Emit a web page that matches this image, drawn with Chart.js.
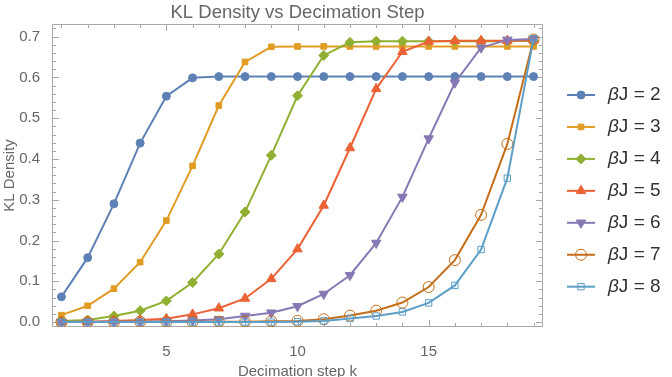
<!DOCTYPE html>
<html>
<head>
<meta charset="utf-8">
<title>KL Density vs Decimation Step</title>
<script src="https://cdn.jsdelivr.net/npm/chart.js@4.4.0/dist/chart.umd.min.js"></script>
<style>
    html, body { margin: 0; padding: 0; background: #fff; }
    #wrap { width: 672px; height: 377px; position: relative; }
</style>
</head>
<body>
<div id="wrap"><canvas id="klChart" width="672" height="377"></canvas></div>
<script>
// decimation steps k
const steps = [1, 2, 3, 4, 5, 6, 7, 8, 9, 10, 11, 12, 13, 14, 15, 16, 17, 18, 19];

// KL density per beta J
const kl2 = [0.062, 0.158, 0.290, 0.439, 0.554, 0.599, 0.602, 0.602, 0.602, 0.602, 0.602, 0.602, 0.602, 0.602, 0.602, 0.602, 0.602, 0.602, 0.602];
const kl3 = [0.017, 0.040, 0.082, 0.147, 0.249, 0.383, 0.531, 0.638, 0.675, 0.676, 0.676, 0.676, 0.676, 0.676, 0.676, 0.676, 0.676, 0.676, 0.676];
const kl4 = [0.003, 0.005, 0.015, 0.028, 0.052, 0.097, 0.167, 0.270, 0.409, 0.555, 0.654, 0.686, 0.689, 0.689, 0.689, 0.689, 0.689, 0.689, 0.690];
const kl5 = [0.000, 0.001, 0.003, 0.005, 0.008, 0.019, 0.034, 0.058, 0.106, 0.179, 0.286, 0.427, 0.572, 0.663, 0.688, 0.690, 0.690, 0.690, 0.691];
const kl6 = [0.000, 0.001, 0.001, 0.001, 0.002, 0.004, 0.007, 0.015, 0.023, 0.039, 0.069, 0.115, 0.194, 0.307, 0.450, 0.587, 0.673, 0.692, 0.694];
const kl7 = [0.000, 0.000, 0.000, 0.001, 0.001, 0.001, 0.001, 0.001, 0.002, 0.003, 0.007, 0.016, 0.028, 0.048, 0.086, 0.152, 0.263, 0.437, 0.693];
const kl8 = [0.000, 0.000, 0.000, 0.000, 0.000, 0.000, 0.000, 0.000, 0.000, 0.001, 0.003, 0.009, 0.015, 0.025, 0.047, 0.090, 0.178, 0.353, 0.695];

const seriesValues = [kl2, kl3, kl4, kl5, kl6, kl7, kl8];
const betaValues = [2, 3, 4, 5, 6, 7, 8];

// y and x ticks
const yTicks = [0, 0.1, 0.2, 0.3, 0.4, 0.5, 0.6, 0.7];
const xTicks = [5, 10, 15];

// styles (Mathematica default palette)
const colors = ['#5E81B5', '#E19C24', '#8FB032', '#EB6235', '#8778B3', '#C56E1A', '#5D9EC7'];
const markers = [
    { style: 'circle', radius: 4, rotation: 0, open: false },
    { style: 'rect', radius: 4, rotation: 0, open: false },
    { style: 'rectRot', radius: 5, rotation: 0, open: false },
    { style: 'triangle', radius: 5.5, rotation: 0, open: false },
    { style: 'triangle', radius: 5.5, rotation: 180, open: false },
    { style: 'circle', radius: 5.5, rotation: 0, open: true },
    { style: 'rect', radius: 4.5, rotation: 0, open: true }
];

const FONT = "'Liberation Sans', Arial, sans-serif";
const GRAY = '#666';
const FRAME = '#a8a8a8';

const datasets = seriesValues.map((vals, i) => ({
    label: 'βJ = ' + betaValues[i],
    data: steps.map((k, j) => ({ x: k, y: vals[j] })),
    borderColor: colors[i],
    backgroundColor: markers[i].open ? 'rgba(0,0,0,0)' : colors[i],
    borderWidth: 2,
    pointStyle: markers[i].style,
    pointRotation: markers[i].rotation,
    pointRadius: markers[i].radius,
    pointBorderWidth: 1,
    pointBorderColor: colors[i],
    pointBackgroundColor: markers[i].open ? 'rgba(0,0,0,0)' : colors[i],
    tension: 0,
    order: 10 - i
}));

// frame with inside ticks, like a Mathematica Frame
const framePlugin = {
    id: 'frame',
    beforeDatasetsDraw(chart) {
        const { ctx, chartArea: { left, right, top, bottom }, scales: { x, y } } = chart;
        ctx.save();
        ctx.strokeStyle = FRAME;
        ctx.lineWidth = 1;
        ctx.beginPath();
        ctx.rect(left + 0.5, top + 0.5, right - left - 1, bottom - top - 1);
        ctx.stroke();

        ctx.beginPath();
        for (let k = 1; k <= 19; k++) {
            const px = Math.round(x.getPixelForValue(k)) + 0.5;
            const len = k % 5 === 0 ? 7 : 4;
            ctx.moveTo(px, bottom);
            ctx.lineTo(px, bottom - len);
            ctx.moveTo(px, top);
            ctx.lineTo(px, top + len);
        }
        for (let j = 0; j <= 36; j++) {
            const v = j * 0.02;
            if (v > y.max) break;
            const py = Math.round(y.getPixelForValue(v)) + 0.5;
            const len = j % 5 === 0 ? 7 : 4;
            ctx.moveTo(left, py);
            ctx.lineTo(left + len, py);
            ctx.moveTo(right, py);
            ctx.lineTo(right - len, py);
        }
        ctx.stroke();
        ctx.restore();
    },
    afterDraw(chart) {
        const { ctx, chartArea: { left, right } } = chart;
        ctx.save();
        // title
        ctx.fillStyle = GRAY;
        ctx.font = '18.5px ' + FONT;
        ctx.textAlign = 'center';
        ctx.textBaseline = 'middle';
        ctx.fillText('KL Density vs Decimation Step', (left + right) / 2, 13);

        // legend
        datasets.forEach((ds, i) => {
            const yRow = 95 + 31.95 * i;
            ctx.strokeStyle = colors[i];
            ctx.lineWidth = 2;
            ctx.beginPath();
            ctx.moveTo(567, yRow);
            ctx.lineTo(595, yRow);
            ctx.stroke();

            ctx.fillStyle = markers[i].open ? 'rgba(0,0,0,0)' : colors[i];
            ctx.strokeStyle = colors[i];
            ctx.lineWidth = 1;
            Chart.helpers.drawPoint(ctx, {
                pointStyle: markers[i].style,
                rotation: markers[i].rotation,
                radius: markers[i].radius,
                borderWidth: 1
            }, 581, yRow);

            ctx.fillStyle = '#333';
            ctx.textAlign = 'left';
            ctx.textBaseline = 'middle';
            ctx.font = 'italic 19px ' + FONT;
            ctx.fillText('β', 608, yRow);
            const bw = ctx.measureText('β').width;
            ctx.font = '19px ' + FONT;
            ctx.fillText('J = ' + betaValues[i], 608 + bw, yRow);
        });
        ctx.restore();
    }
};

new Chart(document.getElementById('klChart').getContext('2d'), {
    type: 'line',
    data: { datasets },
    options: {
        responsive: false,
        animation: false,
        devicePixelRatio: 1,
        layout: { padding: { left: 0, top: 24, right: 129, bottom: 0 } },
        plugins: {
            legend: { display: false },
            title: { display: false },
            tooltip: { enabled: false }
        },
        scales: {
            x: {
                type: 'linear',
                min: 0.64,
                max: 19.36,
                afterBuildTicks: s => { s.ticks = xTicks.map(v => ({ value: v })); },
                afterFit: s => { s.height = 50; },
                grid: { display: false },
                border: { display: false },
                ticks: {
                    color: GRAY,
                    padding: 8,
                    maxRotation: 0,
                    autoSkip: false,
                    font: { family: FONT, size: 15 }
                },
                title: {
                    display: true,
                    text: 'Decimation step k',
                    color: GRAY,
                    font: { family: FONT, size: 15 },
                    padding: { top: 0, bottom: -4 }
                }
            },
            y: {
                type: 'linear',
                min: -0.012,
                max: 0.731,
                afterBuildTicks: s => { s.ticks = yTicks.map(v => ({ value: v })); },
                afterFit: s => { s.width = 52; },
                grid: { display: false },
                border: { display: false },
                ticks: {
                    color: GRAY,
                    padding: 4,
                    autoSkip: false,
                    font: { family: FONT, size: 15 },
                    callback: v => v.toFixed(1)
                },
                title: {
                    display: true,
                    text: 'KL Density',
                    color: GRAY,
                    font: { family: FONT, size: 15 },
                    padding: { top: 1, bottom: 0 }
                }
            }
        }
    },
    plugins: [framePlugin]
});
</script>
</body>
</html>
